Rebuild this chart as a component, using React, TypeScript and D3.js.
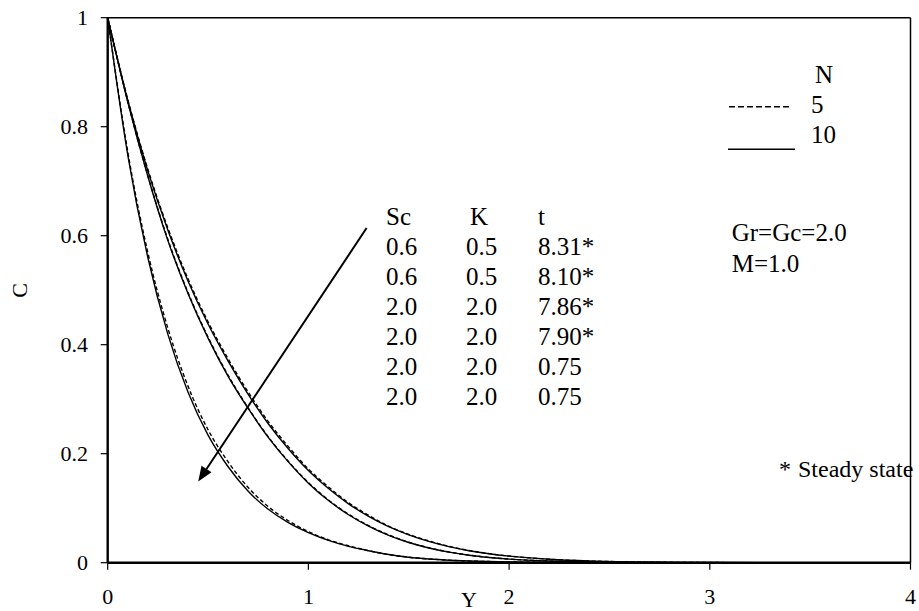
import React from "react";
import * as d3 from "d3";

const xs = [0, 0.1, 0.2, 0.3, 0.4, 0.5, 0.6, 0.7, 0.8, 0.9, 1.0, 1.1, 1.2, 1.3, 1.4, 1.5, 1.6, 1.7, 1.8, 1.9, 2.0, 2.2, 2.4, 2.6, 2.8, 3.0, 3.5, 4.0];

const outerN10 = [1, 0.848, 0.719, 0.610, 0.517, 0.438, 0.370, 0.309, 0.255, 0.209, 0.169, 0.136, 0.108, 0.085, 0.066, 0.051, 0.039, 0.0294, 0.0220, 0.0163, 0.0120, 0.0063, 0.0031, 0.0015, 0.0007, 0.0003, 0, 0];
const outerN5 = [1, 0.850, 0.722, 0.614, 0.521, 0.442, 0.374, 0.313, 0.259, 0.213, 0.172, 0.139, 0.110, 0.087, 0.067, 0.052, 0.040, 0.030, 0.0225, 0.0166, 0.0122, 0.0064, 0.0031, 0.0015, 0.0007, 0.0003, 0, 0];
const middleN10 = [1, 0.845, 0.709, 0.591, 0.494, 0.412, 0.342, 0.283, 0.230, 0.185, 0.146, 0.114, 0.088, 0.067, 0.050, 0.037, 0.027, 0.0194, 0.0137, 0.0096, 0.0066, 0.003, 0.0013, 0.0005, 0.0002, 0.0001, 0, 0];
const middleN5 = [1, 0.846, 0.710, 0.593, 0.496, 0.414, 0.344, 0.284, 0.231, 0.186, 0.147, 0.115, 0.089, 0.068, 0.051, 0.0375, 0.0274, 0.0197, 0.0139, 0.0097, 0.0067, 0.003, 0.0013, 0.0005, 0.0002, 0.0001, 0, 0];
const innerN10 = [1, 0.748, 0.560, 0.419, 0.313, 0.234, 0.176, 0.131, 0.098, 0.0735, 0.055, 0.041, 0.030, 0.022, 0.015, 0.010, 0.0068, 0.0046, 0.0031, 0.0021, 0.0014, 0.0006, 0.0003, 0.0001, 0, 0, 0, 0];
const innerN5 = [1, 0.754, 0.569, 0.430, 0.324, 0.244, 0.185, 0.138, 0.103, 0.077, 0.057, 0.042, 0.031, 0.022, 0.015, 0.010, 0.0068, 0.0046, 0.0031, 0.0021, 0.0014, 0.0006, 0.0003, 0.0001, 0, 0, 0, 0];

const xTicks = [0, 1, 2, 3, 4];
const yTicks = [0, 0.2, 0.4, 0.6, 0.8, 1];
const yTickLabels = ["0", "0.2", "0.4", "0.6", "0.8", "1"];

const tableHeader = ["Sc", "K", "t"];
const tableSc = ["0.6", "0.6", "2.0", "2.0", "2.0", "2.0"];
const tableK = ["0.5", "0.5", "2.0", "2.0", "2.0", "2.0"];
const tableT = ["8.31*", "8.10*", "7.86*", "7.90*", "0.75", "0.75"];

const legendTitle = "N";
const legendLabels = ["5", "10"];

// arrow in data coordinates (start, end)
const arrowFrom = [1.29, 0.614];
const arrowTo = [0.451, 0.149];

const FONT = "'Liberation Serif', 'Times New Roman', serif";

export default function App() {
  const W = 919;
  const H = 611;
  const x = d3.scaleLinear().domain([0, 4]).range([107.7, 910.5]);
  const y = d3.scaleLinear().domain([0, 1]).range([562.7, 17.7]);

  const line = d3
    .line<number>()
    .x((_, i) => x(xs[i]))
    .y((d) => y(d))
    .curve(d3.curveMonotoneX);

  const series = [
    { data: outerN10, dash: null },
    { data: middleN10, dash: null },
    { data: innerN10, dash: null },
    { data: outerN5, dash: "4,2.5" },
    { data: middleN5, dash: "4,2.5" },
    { data: innerN5, dash: "4,2.5" },
  ];

  const ax0 = x(arrowFrom[0]);
  const ay0 = y(arrowFrom[1]);
  const ax1 = x(arrowTo[0]);
  const ay1 = y(arrowTo[1]);
  const ang = Math.atan2(ay1 - ay0, ax1 - ax0);
  const headLen = 15;
  const headW = 6;
  const bx = ax1 - headLen * Math.cos(ang);
  const by = ay1 - headLen * Math.sin(ang);
  const px = -Math.sin(ang) * headW;
  const py = Math.cos(ang) * headW;

  const x0 = x(0);
  const x4 = x(4);
  const y0 = y(0);
  const y1 = y(1);

  return (
    <div style={{ position: "absolute", left: 0, top: 0, width: W, height: H, background: "#fff" }}>
      <svg width={W} height={H} style={{ display: "block" }} fontFamily={FONT}>
        <rect x={0} y={0} width={W} height={H} fill="#fff" />
        {/* frame */}
        <line x1={x0} x2={x4} y1={y1} y2={y1} stroke="#000" strokeWidth={1.5} />
        <line x1={x4} x2={x4} y1={y1} y2={y0} stroke="#000" strokeWidth={1.5} />
        {/* curves */}
        {series.map((s, i) => (
          <path
            key={i}
            d={line(s.data) || ""}
            fill="none"
            stroke="#000"
            strokeWidth={1.4}
            strokeDasharray={s.dash || undefined}
          />
        ))}
        {/* axes */}
        <line x1={x0} x2={x4} y1={y0} y2={y0} stroke="#000" strokeWidth={2.4} />
        <line x1={x0} x2={x0} y1={y0} y2={y1} stroke="#000" strokeWidth={2.4} />
        {yTicks.map((t, i) => (
          <g key={"yt" + i}>
            <line x1={x0 - 7} x2={x0} y1={y(t)} y2={y(t)} stroke="#000" strokeWidth={1.2} />
            <text x={88} y={y(t)} dy="0.34em" textAnchor="end" fontSize={22} fill="#000">
              {yTickLabels[i]}
            </text>
          </g>
        ))}
        {xTicks.map((t, i) => (
          <g key={"xt" + i}>
            <line x1={x(t)} x2={x(t)} y1={y0} y2={y0 + 7} stroke="#000" strokeWidth={1.2} />
            <text x={x(t)} y={604} textAnchor="middle" fontSize={22} fill="#000">
              {String(t)}
            </text>
          </g>
        ))}
        {/* axis titles */}
        <text x={469} y={607} textAnchor="middle" fontSize={22} fill="#000">
          Y
        </text>
        <text
          transform={`translate(27,290.5) rotate(-90)`}
          textAnchor="middle"
          fontSize={22}
          fill="#000"
        >
          C
        </text>
        {/* arrow */}
        <line x1={ax0} y1={ay0} x2={bx} y2={by} stroke="#000" strokeWidth={2} />
        <polygon
          points={`${ax1},${ay1} ${bx + px},${by + py} ${bx - px},${by - py}`}
          fill="#000"
        />
        {/* table */}
        {tableHeader.map((h, i) => (
          <text key={"h" + i} x={[386, 470, 538][i]} y={225} fontSize={25} fill="#000">
            {h}
          </text>
        ))}
        {tableSc.map((v, i) => (
          <g key={"row" + i}>
            <text x={386} y={255 + i * 30} fontSize={25} fill="#000">{v}</text>
            <text x={466} y={255 + i * 30} fontSize={25} fill="#000">{tableK[i]}</text>
            <text x={538} y={255 + i * 30} fontSize={25} fill="#000">{tableT[i]}</text>
          </g>
        ))}
        {/* legend */}
        <text x={815} y={83} fontSize={25} fill="#000">{legendTitle}</text>
        <line x1={729} x2={790} y1={106.7} y2={106.7} stroke="#000" strokeWidth={1.6} strokeDasharray="6,3" />
        <text x={811} y={112.7} fontSize={25} fill="#000">{legendLabels[0]}</text>
        <line x1={728} x2={795} y1={149.3} y2={149.3} stroke="#000" strokeWidth={1.4} />
        <text x={811} y={143.3} fontSize={25} fill="#000">{legendLabels[1]}</text>
        {/* parameters */}
        <text x={731.7} y={240.7} fontSize={25} fill="#000">Gr=Gc=2.0</text>
        <text x={731.7} y={271.7} fontSize={25} fill="#000">M=1.0</text>
        <text x={779} y={477} fontSize={24} fill="#000">*</text>
        <text x={798} y={477} fontSize={24} fill="#000">Steady state</text>
      </svg>
    </div>
  );
}
